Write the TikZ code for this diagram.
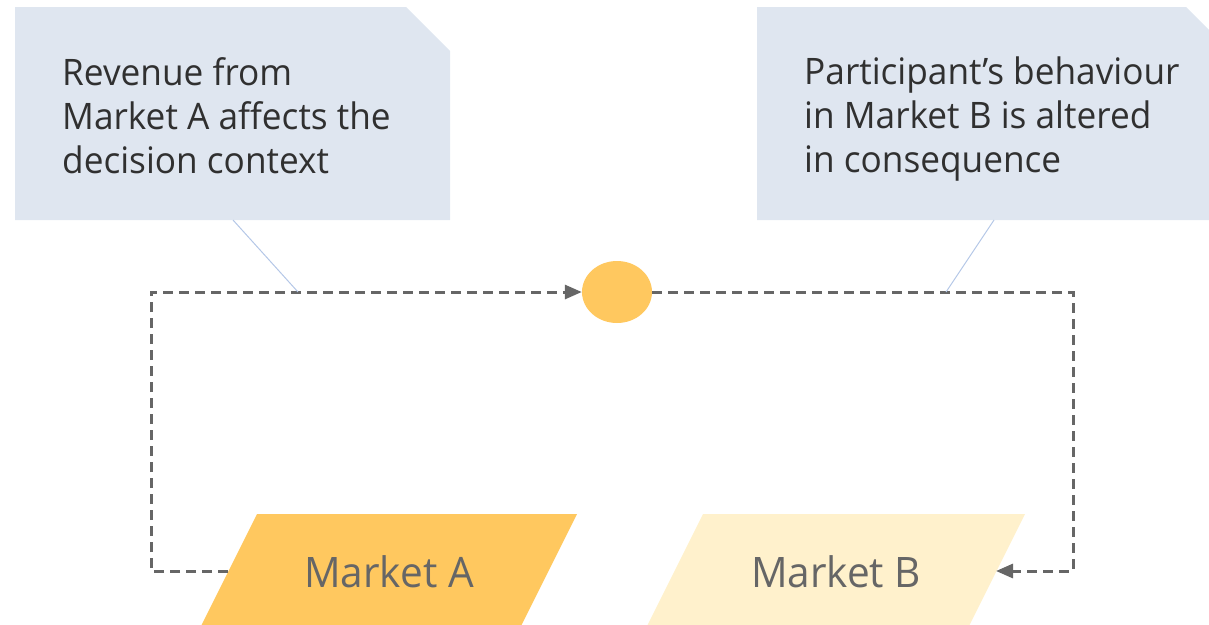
\documentclass[tikz,border=0pt]{standalone}
\usepackage{fontspec}
\setmainfont{Open Sans}[FakeStretch=0.965]
\usetikzlibrary{arrows.meta,shapes.geometric}
\definecolor{callfill}{HTML}{DFE6F0}
\definecolor{calltext}{HTML}{303030}
\definecolor{leader}{HTML}{B4C7E7}
\definecolor{dashgray}{HTML}{666666}
\definecolor{mktA}{HTML}{FFC85F}
\definecolor{mktB}{HTML}{FFF1CC}
\tikzset{
  x=1pt, y=-1pt,
  callbox/.style={fill=callfill, draw=none},
  calltxt/.style={anchor=north west, inner sep=0pt, align=left, text=calltext,
    font=\fontsize{36.5}{44}\selectfont},
  mkttxt/.style={anchor=base, inner sep=0pt, text=dashgray,
    font=\fontsize{42}{50}\selectfont},
  leaderline/.style={draw=leader, line width=1pt},
  loopline/.style={draw=dashgray, line width=3pt, dash pattern=on 10pt off 6pt},
  tip/.style={-{Triangle[length=17pt,width=14pt]}},
  hub/.style={ellipse, fill=mktA, draw=none, minimum width=70pt, minimum height=62pt, inner sep=0pt}
}
\begin{document}
\begin{tikzpicture}
\useasboundingbox (0,0) rectangle (1209,624);
\clip (0,0) rectangle (1209,624);
% callouts
\path[callbox] (15,7) -- (406,7) -- (450,51) -- (450,220) -- (15,220) -- cycle;
\path[callbox] (757,7) -- (1186,7) -- (1230,51) -- (1230,220) -- (757,220) -- cycle;
\node[calltxt] (ta) at (62,57) {Revenue from\\Market A affects the\\decision context};
\node[calltxt] (tb) at (804,57) {Participant’s behaviour\\in Market B is altered\\in consequence};
% markets
\path[fill=mktA] (257,514) -- (577,514) -- (520,628) -- (200,628) -- cycle;
\path[fill=mktB] (703,514) -- (1025,514) -- (968,628) -- (646,628) -- cycle;
\node[mkttxt] (ma) at (389,587) {Market A};
\node[mkttxt] (mb) at (836,587) {Market B};
\coordinate (aL) at (228,571);
\coordinate (bR) at (996,571);
\coordinate (cornerL) at (151,571);
\coordinate (cornerR) at (1073,571);
% hub
\node[hub] (c) at (617,292) {};
% loop
\draw[loopline, tip] (aL) -- (cornerL) |- (c.west);
\draw[loopline, tip] (c.east) -| (cornerR) -- (bR);
% leaders
\coordinate (la1) at (233,220);
\coordinate (la2) at (298,292);
\coordinate (lb1) at (994,220);
\coordinate (lb2) at (946,292);
\draw[leaderline] (la1) -- (la2);
\draw[leaderline] (lb1) -- (lb2);
\end{tikzpicture}
\end{document}
